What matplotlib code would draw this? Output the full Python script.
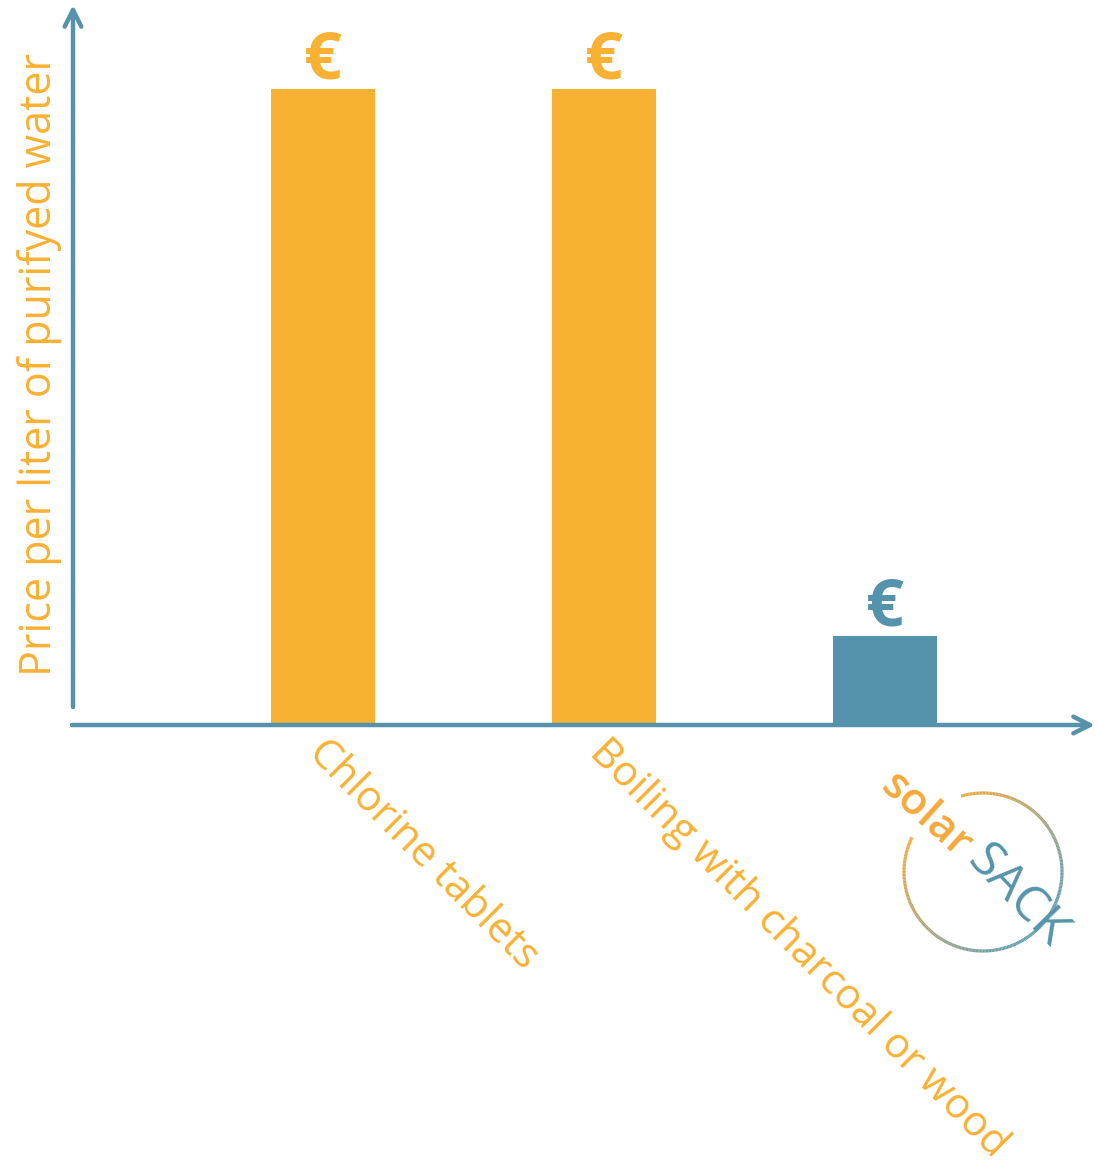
import numpy as np
import matplotlib.pyplot as plt
from matplotlib.collections import LineCollection
from matplotlib.colors import to_rgb

# datos
metodos = ['Chlorine tablets', 'Boiling with charcoal or wood', 'solarSACK']
precio = [1.0, 1.0, 0.14]
colores = ['#F8B133', '#F8B133', '#5592AB']
simbolo = '€'

naranja = '#F8B133'
azul = '#5592AB'
fuente = 'Open Sans'

fig = plt.figure(figsize=(10.98, 11.75), dpi=100)
ax = fig.add_axes([73 / 1098, 1 - 725 / 1175, 1022 / 1098, 720 / 1175])

x = np.arange(1, len(metodos) + 1)
ax.bar(x, precio, width=0.37, color=colores, zorder=2)
for xi, p, c in zip(x, precio, colores):
    ax.text(xi, p + 0.016, simbolo, ha='center', va='baseline', color=c,
            fontsize=48, fontweight='bold', family=fuente)

ax.set_xlim(0.11, 3.747)
ax.set_ylim(0, 1.132)
for s in ax.spines.values():
    s.set_visible(False)
ax.set_xticks([])
ax.set_yticks([])

# ejes con flecha
flecha = dict(arrowstyle='->', lw=3.2, color=azul, mutation_scale=30,
              shrinkA=0, shrinkB=0)
ax.annotate('', xy=(1.0, 0), xytext=(-0.001, 0), xycoords='axes fraction',
            arrowprops=flecha, annotation_clip=False)
ax.annotate('', xy=(0, 1.0), xytext=(0, 0.025), xycoords='axes fraction',
            arrowprops=flecha, annotation_clip=False)

# etiquetas del eje x (la tercera es el logo)
for xi, m in zip(x[:2], metodos[:2]):
    ax.text(xi + 0.025, -0.01, m, rotation=-45, rotation_mode='anchor',
            ha='left', va='top', color=naranja, fontsize=30, family=fuente,
            clip_on=False)

fig.text(40 / 1098, 1 - 365 / 1175, 'Price per liter of purifyed water',
         rotation=90, ha='center', va='center', color=naranja, fontsize=31,
         family=fuente)

# logo solarSACK en pixeles
lg = fig.add_axes([0, 0, 1, 1])
lg.set_xlim(0, 1098)
lg.set_ylim(1175, 0)
lg.axis('off')
lg.patch.set_alpha(0)

cx, cy, r = 983, 872, 79
th = np.radians(np.linspace(106, 154 - 360, 300))
px = cx + r * np.cos(th)
py = cy - r * np.sin(th)
pts = np.column_stack([px, py])
segs = np.stack([pts[:-1], pts[1:]], axis=1)
t = ((px[:-1] - cx) + (py[:-1] - cy)) / (r * np.sqrt(2))
t = np.clip((t + 1) / 2, 0, 1)
c0, c1 = np.array(to_rgb('#F2A93B')), np.array(to_rgb('#5E9BB0'))
cols = [c0 + (c1 - c0) * ti for ti in t]
lg.add_collection(LineCollection(segs, colors=cols, linewidths=2.3))

lg.text(926, 816, 'solar', rotation=-42, ha='center', va='center',
        rotation_mode='anchor', color='#F5A93A', fontsize=32,
        fontweight='semibold', family=fuente)
lg.text(1017, 897, 'SACK', rotation=-46, ha='center', va='center',
        rotation_mode='anchor', color='#5594AC', fontsize=36,
        fontweight='normal', family=fuente)

fig.savefig('out.png', dpi=100)
